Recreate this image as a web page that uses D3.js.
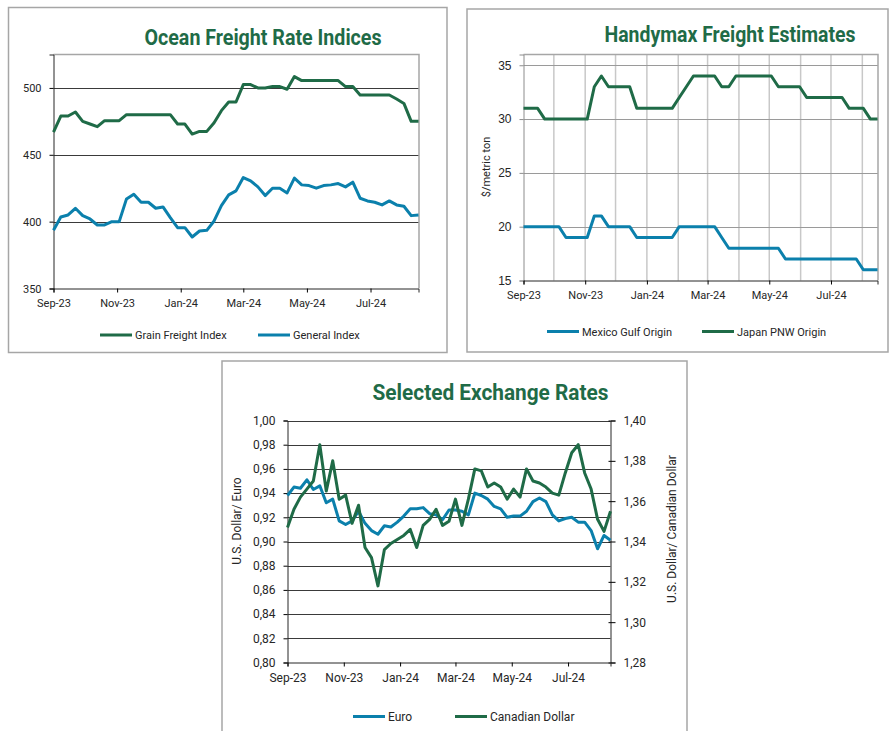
<!DOCTYPE html>
<html>
<head>
<title>Freight rates and exchange rates</title>
<script src="https://d3js.org/d3.v7.min.js"></script>
<style>
  body { margin: 0; background: #fff; }
  text { font-family: Roboto, "Liberation Sans", sans-serif; fill: #262626; }
  .title { font-weight: bold; font-size: 22px; fill: #1f6b47; }
  .tick text { font-size: 11px; }
  .legend { font-size: 11px; }
  .axislabel { font-size: 11px; }
</style>
</head>
<body>
<script>
var w = 889, h = 731;
var green = "#1f6b47", blue = "#0b80ac";

// weekly observations, starting first week of Sep 2023
var firstWeek = new Date(2023, 8, 1);
var weeks = d3.range(51).map(function(i) { return d3.timeDay.offset(firstWeek, 7 * i); });

// x tick labels, every second month
var tickDates = [new Date(2023, 8, 1), new Date(2023, 10, 1), new Date(2024, 0, 1),
                 new Date(2024, 2, 1), new Date(2024, 4, 1), new Date(2024, 6, 1)];
var tickLabels = ["Sep-23", "Nov-23", "Jan-24", "Mar-24", "May-24", "Jul-24"];

// ocean freight rate indices
var grainIndex = [467, 479, 479, 482, 475, 473, 471, 475.5, 475.5, 475.5,
                  480, 480, 480, 480, 480, 480, 480, 473, 473, 465.5,
                  467.5, 467.5, 474, 483, 489.5, 489.5, 502.5, 502.5, 500, 500,
                  501, 501, 499, 508.5, 505.5, 505.5, 505.5, 505.5, 505.5, 505.5,
                  501, 501, 494.7, 494.7, 494.7, 494.7, 494.7, 491.7, 488.4, 475, 475];
var generalIndex = [393.5, 403.5, 405, 410, 404.5, 402, 397.5, 397.5, 400, 400,
                    417, 420.5, 414.5, 414.5, 410, 411, 403, 395.5, 395.5, 388.5,
                    393, 393.5, 400.5, 412, 420, 423, 433, 430.5, 426, 419.5,
                    425, 425, 421.5, 432.5, 427.5, 427, 425, 427, 427.5, 428.5,
                    426, 429.5, 417.5, 415.5, 414.5, 412.5, 415.5, 412.5, 411.5, 404.5, 405];
var oceanTicks = [350, 400, 450, 500];

// handymax freight estimates, $/metric ton
var mexicoGulf = [20, 20, 20, 20, 20, 20, 19, 19, 19, 19,
                  21, 21, 20, 20, 20, 20, 19, 19, 19, 19,
                  19, 19, 20, 20, 20, 20, 20, 20, 19, 18,
                  18, 18, 18, 18, 18, 18, 18, 17, 17, 17,
                  17, 17, 17, 17, 17, 17, 17, 17, 16, 16, 16];
var japanPnw = [31, 31, 31, 30, 30, 30, 30, 30, 30, 30,
                33, 34, 33, 33, 33, 33, 31, 31, 31, 31,
                31, 31, 32, 33, 34, 34, 34, 34, 33, 33,
                34, 34, 34, 34, 34, 34, 33, 33, 33, 33,
                32, 32, 32, 32, 32, 32, 31, 31, 31, 30, 30];
var handyTicks = [15, 20, 25, 30, 35];

// exchange rates
var euro = [0.938, 0.945, 0.944, 0.951, 0.943, 0.946, 0.932, 0.935, 0.917, 0.914,
            0.917, 0.925, 0.915, 0.909, 0.906, 0.913, 0.912, 0.916, 0.921, 0.927,
            0.927, 0.928, 0.923, 0.922, 0.918, 0.926, 0.926, 0.925, 0.922, 0.940,
            0.938, 0.935, 0.929, 0.927, 0.920, 0.921, 0.921, 0.925, 0.933, 0.936,
            0.933, 0.922, 0.917, 0.919, 0.920, 0.916, 0.916, 0.909, 0.894, 0.905, 0.901];
var canadianDollar = [1.347, 1.356, 1.362, 1.366, 1.370, 1.388, 1.365, 1.380, 1.361, 1.363,
                      1.349, 1.358, 1.337, 1.332, 1.318, 1.336, 1.339, 1.341, 1.343, 1.346,
                      1.337, 1.348, 1.351, 1.356, 1.348, 1.350, 1.361, 1.348, 1.361, 1.376,
                      1.375, 1.367, 1.369, 1.367, 1.361, 1.366, 1.362, 1.376, 1.370, 1.369,
                      1.367, 1.364, 1.363, 1.374, 1.384, 1.388, 1.374, 1.366, 1.351, 1.345, 1.355];
var euroTicks = d3.range(0, 11).map(function(i) { return 0.80 + i * 0.02; });
var cadTicks = d3.range(0, 7).map(function(i) { return 1.28 + i * 0.02; });

// comma as decimal mark
var locale = d3.formatLocale({decimal: ",", thousands: ".", grouping: [3], currency: ["", ""]});
var fmt2 = locale.format(".2f");

var svg = d3.select("body").append("svg")
            .attr("width", w)
            .attr("height", h);

// draws one line series
function drawLine(g, x, y, values, color) {
  var line = d3.line()
               .x(function(d, i) { return x(weeks[i]); })
               .y(function(d) { return y(d); });
  g.append("path")
   .datum(values)
   .attr("fill", "none")
   .attr("stroke", color)
   .attr("stroke-width", 3)
   .attr("stroke-linejoin", "round")
   .attr("d", line);
}

// legend entry: short line plus label
function legendItem(x0, y0, color, label, size) {
  svg.append("line")
     .attr("x1", x0).attr("x2", x0 + 32)
     .attr("y1", y0).attr("y2", y0)
     .attr("stroke", color).attr("stroke-width", 3);
  svg.append("text")
     .attr("class", "legend")
     .attr("x", x0 + 35).attr("y", y0 + 4)
     .style("font-size", (size || 11) + "px")
     .text(label);
}

function panelBox(x0, y0, x1, y1) {
  svg.append("rect")
     .attr("x", x0).attr("y", y0)
     .attr("width", x1 - x0).attr("height", y1 - y0)
     .attr("fill", "none")
     .attr("stroke", "#a6a6a6")
     .attr("stroke-width", 1.5);
}

function title(cx, y0, label, len) {
  svg.append("text")
     .attr("class", "title")
     .attr("x", cx).attr("y", y0)
     .attr("text-anchor", "middle")
     .attr("textLength", len)
     .attr("lengthAdjust", "spacingAndGlyphs")
     .text(label);
}

function bottomAxis(g, x, y0) {
  var ax = g.append("g")
            .attr("transform", "translate(0," + y0 + ")")
            .call(d3.axisBottom(x)
                    .tickValues(tickDates)
                    .tickSize(4)
                    .tickPadding(7)
                    .tickFormat(function(d, i) { return tickLabels[i]; }));
  ax.select(".domain").attr("stroke", "#262626");
  return ax;
}

/*
 panel 1: ocean freight rate indices
*/
panelBox(8.5, 7.5, 447, 352.5);
title(263, 45, "Ocean Freight Rate Indices", 237);

var p1 = svg.append("g");
var x1 = d3.scaleTime().domain([weeks[0], weeks[50]]).range([53.5, 418.5]);
var y1 = d3.scaleLinear().domain([350, 525]).range([288.5, 54.5]);

// gridlines
p1.selectAll(".grid")
  .data(oceanTicks.slice(1))
  .enter().append("line")
  .attr("x1", 53.5).attr("x2", 419)
  .attr("y1", function(d) { return Math.round(y1(d)) + 0.5; })
  .attr("y2", function(d) { return Math.round(y1(d)) + 0.5; })
  .attr("stroke", "#3a3a3a");

// plot frame, top and right
p1.append("path")
  .attr("d", "M53.5,54.5H419V288.5")
  .attr("fill", "none")
  .attr("stroke", "#a6a6a6")
  .attr("stroke-width", 1.5);

var ay1 = p1.append("g")
            .attr("transform", "translate(53.5,0)")
            .call(d3.axisLeft(y1).tickValues(oceanTicks).tickSize(4).tickPadding(8));
ay1.select(".domain").attr("stroke", "#262626");
bottomAxis(p1, x1, 288.5);

drawLine(p1, x1, y1, generalIndex, blue);
drawLine(p1, x1, y1, grainIndex, green);

legendItem(100, 335, green, "Grain Freight Index");
legendItem(258, 335, blue, "General Index");

/*
 panel 2: handymax freight estimates
*/
panelBox(467, 9, 888, 352);
title(730, 42, "Handymax Freight Estimates", 251);

var p2 = svg.append("g");
var x2 = d3.scaleTime().domain([weeks[0], weeks[50]]).range([523.5, 877.5]);
var y2 = d3.scaleLinear().domain([15, 36]).range([280.5, 54.5]);

// monthly vertical gridlines
p2.selectAll(".vgrid")
  .data(d3.timeMonth.range(new Date(2023, 9, 1), weeks[50]))
  .enter().append("line")
  .attr("x1", function(d) { return x2(d); })
  .attr("x2", function(d) { return x2(d); })
  .attr("y1", 54.5).attr("y2", 280.5)
  .attr("stroke", "#c8c8c8")
  .attr("stroke-width", 1.5);

p2.selectAll(".hgrid")
  .data(handyTicks.slice(1))
  .enter().append("line")
  .attr("x1", 523.5).attr("x2", 878)
  .attr("y1", function(d) { return Math.round(y2(d)) + 0.5; })
  .attr("y2", function(d) { return Math.round(y2(d)) + 0.5; })
  .attr("stroke", "#9a9a9a")
  .attr("stroke-width", 1.2);

p2.append("path")
  .attr("d", "M523.5,54.5H878V280.5")
  .attr("fill", "none")
  .attr("stroke", "#a6a6a6")
  .attr("stroke-width", 1.5);

var ay2 = p2.append("g")
            .attr("transform", "translate(523.5,0)")
            .call(d3.axisLeft(y2).tickValues(handyTicks).tickSize(4).tickPadding(8));
ay2.select(".domain").attr("stroke", "#8c8c8c");
ay2.selectAll(".tick line").attr("stroke", "#8c8c8c");
ay2.selectAll(".tick text").style("font-family", "'Liberation Sans', Arial, sans-serif").style("font-size", "12px");
bottomAxis(p2, x2, 280.5);

drawLine(p2, x2, y2, mexicoGulf, blue);
drawLine(p2, x2, y2, japanPnw, green);

svg.append("text")
   .attr("class", "axislabel")
   .attr("transform", "translate(490,167) rotate(-90)")
   .attr("text-anchor", "middle")
   .text("$/metric ton");

legendItem(547, 331.5, blue, "Mexico Gulf Origin");
legendItem(702, 331.5, green, "Japan PNW Origin");

/*
 panel 3: selected exchange rates
*/
panelBox(222, 361, 687, 740);
title(490.5, 400, "Selected Exchange Rates", 236);

var p3 = svg.append("g");
var x3 = d3.scaleTime().domain([weeks[0], weeks[50]]).range([287.5, 610.5]);
var y3 = d3.scaleLinear().domain([0.80, 1.00]).range([662.5, 420.5]);
var y3r = d3.scaleLinear().domain([1.28, 1.40]).range([662.5, 420.5]);

p3.selectAll(".grid")
  .data(euroTicks.slice(1))
  .enter().append("line")
  .attr("x1", 287.5).attr("x2", 610.5)
  .attr("y1", function(d) { return Math.round(y3(d)) + 0.5; })
  .attr("y2", function(d) { return Math.round(y3(d)) + 0.5; })
  .attr("stroke", "#3a3a3a");

var ay3 = p3.append("g")
            .attr("transform", "translate(287.5,0)")
            .call(d3.axisLeft(y3).tickValues(euroTicks).tickSize(4).tickPadding(8).tickFormat(fmt2));
ay3.select(".domain").attr("stroke", "#262626");
ay3.selectAll(".tick text").style("font-size", "12px");

var ay3r = p3.append("g")
             .attr("transform", "translate(610.5,0)")
             .call(d3.axisRight(y3r).tickValues(cadTicks).tickSize(5).tickPadding(8).tickFormat(fmt2));
ay3r.select(".domain").attr("stroke", "#262626");
ay3r.selectAll(".tick line").attr("x1", -2);
ay3r.selectAll(".tick text").style("font-size", "12px");

var ax3 = bottomAxis(p3, x3, 662.5);
ax3.selectAll(".tick text").style("font-size", "12px");

drawLine(p3, x3, y3, euro, blue);
drawLine(p3, x3, y3r, canadianDollar, green);

svg.append("text")
   .attr("class", "axislabel")
   .attr("transform", "translate(241,521) rotate(-90)")
   .attr("text-anchor", "middle")
   .style("font-size", "12px")
   .text("U.S. Dollar/ Euro");

svg.append("text")
   .attr("class", "axislabel")
   .attr("transform", "translate(676,529) rotate(-90)")
   .attr("text-anchor", "middle")
   .style("font-size", "12px")
   .text("U.S. Dollar/ Canadian Dollar");

legendItem(353, 716.5, blue, "Euro", 12);
legendItem(455, 716.5, green, "Canadian Dollar", 12);
</script>
</body>
</html>
